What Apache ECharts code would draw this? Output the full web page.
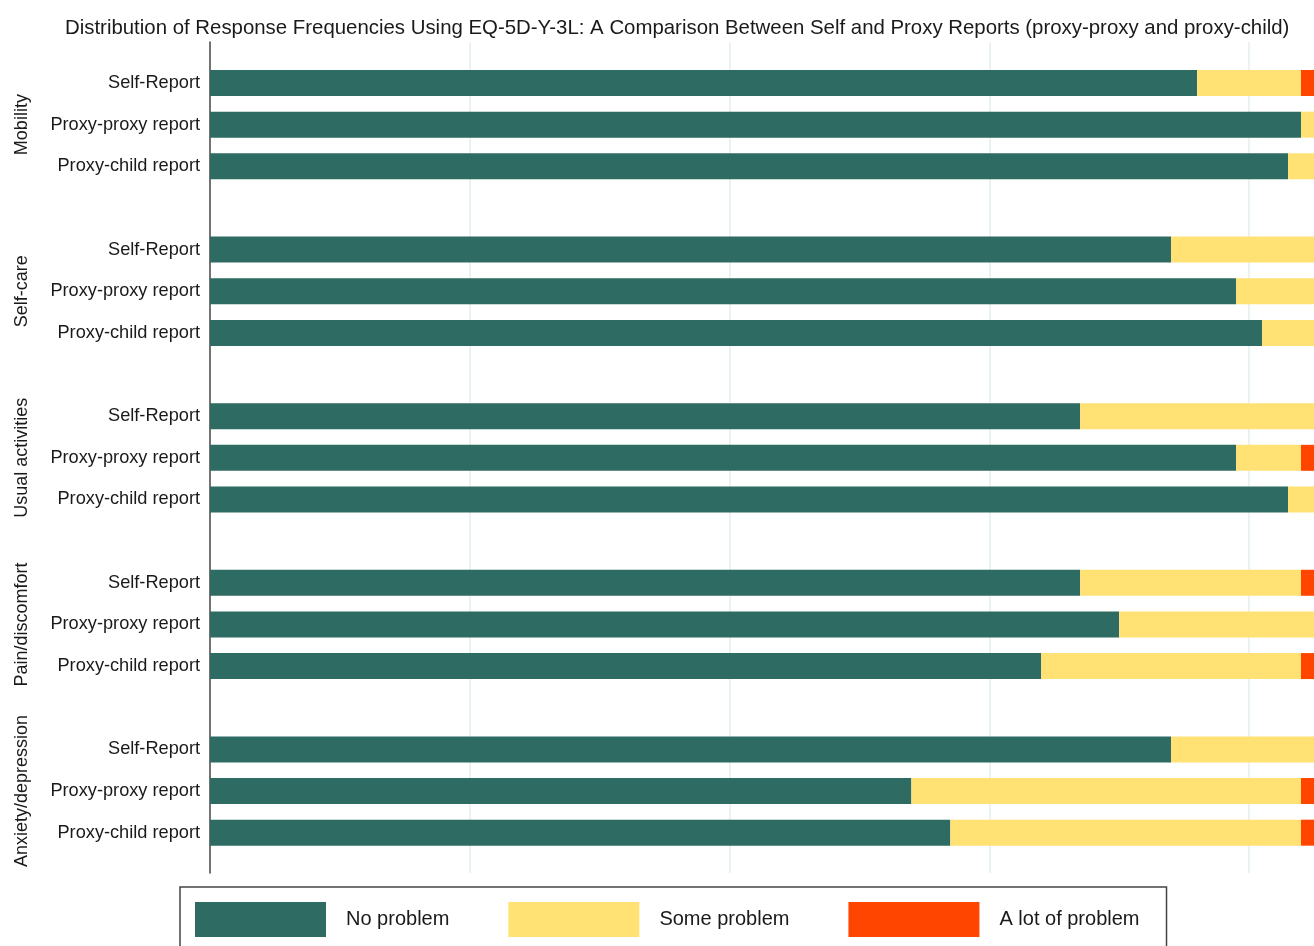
<!DOCTYPE html>
<html>
<head>
<meta charset="utf-8">
<script src="https://cdn.jsdelivr.net/npm/echarts@6/dist/echarts.min.js"></script>
<style>
html,body{margin:0;padding:0;background:#fff;}
#chart{width:1314px;height:946px;}
</style>
</head>
<body>
<div id="chart"></div>
<script>
const titleText = 'Distribution of Response Frequencies Using EQ-5D-Y-3L: A Comparison Between Self and Proxy Reports (proxy-proxy and proxy-child)';
const dimensions = ['Mobility', 'Self-care', 'Usual activities', 'Pain/discomfort', 'Anxiety/depression'];
const reporters = ['Self-Report', 'Proxy-proxy report', 'Proxy-child report'];
const seriesNames = ['No problem', 'Some problem', 'A lot of problem'];
// counts per dimension: [Self, Proxy-proxy, Proxy-child]
const noProblem   = [[76, 84, 83], [74, 79, 81], [67, 79, 83], [67, 70, 64], [74, 54, 57]];
const someProblem = [[8, 1, 2],   [11, 6, 4],   [18, 5, 2],   [17, 15, 20], [11, 30, 27]];
const lotProblem  = [[1, 0, 0],   [0, 0, 0],    [0, 1, 0],    [1, 0, 1],    [0, 1, 1]];
const totalN = 85;
const xTicks = [0, 20, 40, 60, 80];

const colors = ['#2E6B62', '#FFE174', '#FF4500'];

// build category list: one blank slot before each dimension group
const categories = [];
const build = (arr) => {
  const out = [];
  dimensions.forEach((d, i) => {
    out.push(null);
    reporters.forEach((r, j) => out.push(arr[i][j] === 0 ? null : arr[i][j]));
  });
  return out;
};
dimensions.forEach((d) => {
  categories.push(d + '|');
  reporters.forEach((r) => categories.push(d + '|' + r));
});

const font = '"Liberation Sans", Arial, sans-serif';
const chart = echarts.init(document.getElementById('chart'), null, {renderer: 'canvas'});

const barGrid = {left: 210, right: 0, top: 20.5, height: 833};
chart.setOption({
  animation: false,
  backgroundColor: '#fff',
  color: colors,
  title: {
    text: titleText,
    left: 60,
    top: 13,
    textStyle: {fontFamily: font, fontSize: 20.4, fontWeight: 'normal', color: '#1a1a1a'}
  },
  legend: {
    data: seriesNames,
    left: 180,
    top: 887,
    orient: 'horizontal',
    itemWidth: 131,
    itemHeight: 35,
    itemGap: 59,
    icon: 'rect',
    padding: [15, 27, 30, 15],
    borderColor: '#444',
    borderWidth: 1.5,
    borderRadius: 0,
    textStyle: {fontFamily: font, fontSize: 20, color: '#1a1a1a', padding: [0, 0, 0, 15]}
  },
  grid: [
    Object.assign({}, barGrid),
    {left: 210, right: 0, top: 42, bottom: 73},
    Object.assign({}, barGrid)
  ],
  xAxis: [
    {gridIndex: 0, type: 'value', min: 0, max: totalN, show: false},
    {gridIndex: 1, type: 'value', min: xTicks[0], max: totalN, interval: xTicks[1] - xTicks[0],
     axisLine: {show: false}, axisTick: {show: false}, axisLabel: {show: false},
     splitLine: {show: true, showMinLine: false, showMaxLine: false, lineStyle: {color: '#EAF2F2', width: 2}}},
    {gridIndex: 2, type: 'value', min: 0, max: totalN, show: false}
  ],
  yAxis: [
    {gridIndex: 0, type: 'category', data: categories, inverse: true,
     axisLine: {show: false}, axisTick: {show: false}, splitLine: {show: false},
     axisLabel: {interval: 0, margin: 10, fontFamily: font, fontSize: 18.2, color: '#1a1a1a',
       padding: [3, 0, 0, 0],
       formatter: (v) => v.split('|')[1]}},
    {gridIndex: 1, type: 'value', min: 0, max: 1,
     axisLine: {show: true, lineStyle: {color: '#444', width: 1.5}},
     axisTick: {show: false}, axisLabel: {show: false}, splitLine: {show: false}},
    {gridIndex: 2, type: 'category', data: categories, inverse: true,
     axisLine: {show: false}, axisTick: {show: false}, splitLine: {show: false},
     axisLabel: {interval: 0, rotate: 90, margin: 179, fontFamily: font, fontSize: 18, color: '#1a1a1a',
       formatter: (v) => {
         const parts = v.split('|');
         return parts[1] === reporters[1] ? parts[0] : '';
       }}}
  ],
  series: [noProblem, someProblem, lotProblem].map((arr, k) => ({
    name: seriesNames[k],
    type: 'bar',
    stack: 'total',
    xAxisIndex: 0,
    yAxisIndex: 0,
    barWidth: 26,
    data: build(arr),
    itemStyle: {color: colors[k]}
  }))
});
</script>
</body>
</html>
